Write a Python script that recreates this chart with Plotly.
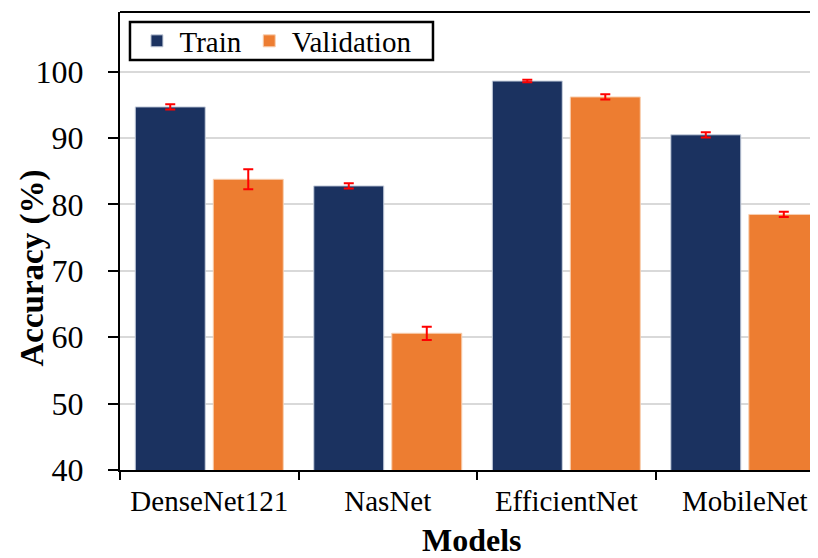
import plotly.graph_objects as go

models = ["DenseNet121", "NasNet", "EfficientNet", "MobileNet"]
train_acc = [94.7, 82.8, 98.6, 90.5]
train_err = [0.4, 0.4, 0.2, 0.4]
val_acc = [83.8, 60.6, 96.2, 78.5]
val_err = [1.5, 1.0, 0.4, 0.4]
y_ticks = [40, 50, 60, 70, 80, 90, 100]

SERIF = "Liberation Serif, Times New Roman, serif"

fig = go.Figure()
fig.add_trace(go.Bar(
    name="Train", x=models, y=train_acc,
    marker=dict(color="#1b3260", line=dict(color="#c8d0de", width=1)),
    error_y=dict(type="data", array=train_err, color="#ff0000", thickness=2, width=5),
))
fig.add_trace(go.Bar(
    name="Validation", x=models, y=val_acc,
    marker=dict(color="#ed7d31", line=dict(color="#f8cfb0", width=1)),
    error_y=dict(type="data", array=val_err, color="#ff0000", thickness=2, width=5),
))

# page body has an 8px margin, so the figure is shifted by 8px; compensate
fig.update_layout(
    width=810, height=550,
    margin=dict(l=112, r=0, t=4, b=88, autoexpand=False),
    paper_bgcolor="white", plot_bgcolor="white",
    barmode="group", bargap=0.126, bargroupgap=0.103,
    font=dict(family=SERIF, color="black"),
    showlegend=True,
    legend=dict(
        orientation="h", x=0.0207, y=0.9367, xanchor="left", yanchor="middle",
        borderwidth=0, bgcolor="rgba(0,0,0,0)",
        font=dict(size=29, family=SERIF), itemwidth=35,
    ),
)
fig.update_xaxes(
    range=[-0.5, 3.41], showline=True, linecolor="black", linewidth=2,
    ticks="outside", tickson="boundaries", ticklen=8, tickwidth=2, tickcolor="black",
    tickfont=dict(size=29, family=SERIF), showgrid=False, ticklabelstandoff=4,
    automargin=False,
)
fig.update_yaxes(
    range=[40, 109], tickvals=y_ticks, showline=True, linecolor="black", linewidth=2,
    ticks="outside", ticklen=10, tickwidth=2, tickcolor="black",
    tickfont=dict(size=32, family=SERIF), showgrid=True, gridcolor="#d9d9d9", gridwidth=2,
    zeroline=False, ticklabelstandoff=18, automargin=False,
)
fig.add_shape(type="line", xref="paper", yref="paper", x0=0, x1=1, y0=1, y1=1,
              line=dict(color="black", width=2))
# legend frame
fig.add_shape(type="rect", xref="paper", yref="paper", x0=0.0143, x1=0.4484,
              y0=0.8952, y1=0.978, line=dict(color="black", width=2.5),
              fillcolor="white", layer="above")
fig.add_annotation(text="<b>Accuracy (%)</b>", xref="paper", yref="paper",
                   x=-0.126, y=0.44, xanchor="center", yanchor="middle",
                   textangle=-90, showarrow=False,
                   font=dict(size=33, family=SERIF))
fig.add_annotation(text="<b>Models</b>", xref="paper", yref="paper",
                   x=0.505, y=-0.153, xanchor="center", yanchor="middle",
                   showarrow=False,
                   font=dict(size=32, family=SERIF))

fig.write_html("out.html")
